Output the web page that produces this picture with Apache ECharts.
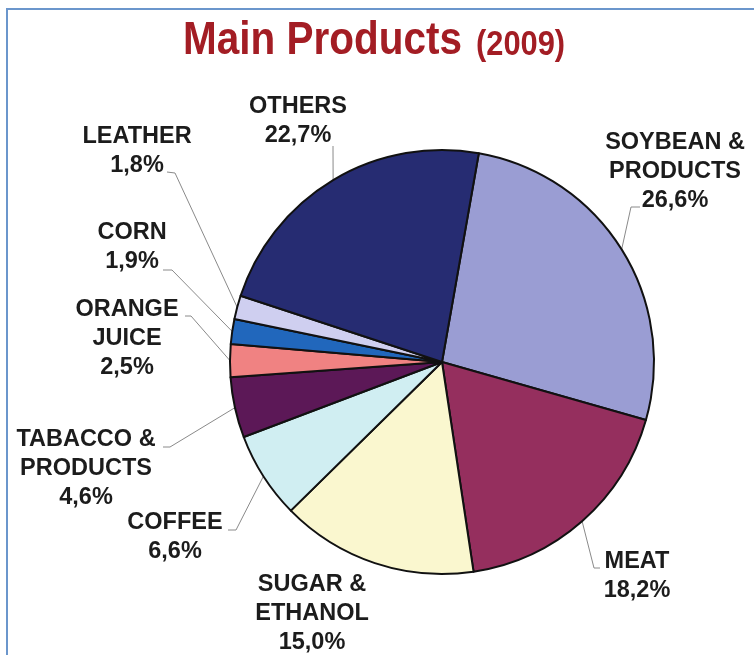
<!DOCTYPE html>
<html>
<head>
<meta charset="utf-8">
<script src="https://cdn.jsdelivr.net/npm/echarts@6/dist/echarts.min.js"></script>
<style>
  html, body { margin: 0; padding: 0; background: #ffffff; }
  #chart { width: 754px; height: 655px; }
</style>
</head>
<body>
<div id="chart"></div>
<script>
// Export shares by product group, 2009 (percent)
const categories = [
  'SOYBEAN &\nPRODUCTS',
  'MEAT',
  'SUGAR &\nETHANOL',
  'COFFEE',
  'TABACCO &\nPRODUCTS',
  'ORANGE\nJUICE',
  'CORN',
  'LEATHER',
  'OTHERS'
];
const shares = [26.6, 18.2, 15.0, 6.6, 4.6, 2.5, 1.9, 1.8, 22.7];
const sliceColors = ['#9a9dd3', '#952f5e', '#faf7cf', '#d0eef2', '#5c1857', '#f08282', '#2167bc', '#cfcff0', '#262c72'];

const titleMain = 'Main Products';
const titleYear = '(2009)';

// Where each label block sits (top-centre) and where its leader line meets the text
const labelBoxes = [
  { x: 675, y: 128, tail: [[640, 207], [631, 207]] },
  { x: 637, y: 547, tail: [[600, 568], [594, 568]] },
  { x: 312, y: 570, tail: null },
  { x: 175, y: 508, tail: [[228, 530], [236, 530]] },
  { x: 86,  y: 425, tail: [[163, 447], [170, 447]] },
  { x: 127, y: 295, tail: [[185, 316], [191, 316]] },
  { x: 132, y: 218, tail: [[163, 270], [172, 270]] },
  { x: 137, y: 122, tail: [[167, 172], [175, 173]] },
  { x: 298, y: 92,  tail: [[333, 146], [333, 150]] }
];

const fmtPct = v => v.toFixed(1).replace('.', ',') + '%';
const titleFont = '"Liberation Sans", Arial, sans-serif';

const chart = echarts.init(document.getElementById('chart'), null, { renderer: 'canvas' });

chart.setOption({
  backgroundColor: '#ffffff',
  animation: false,
  graphic: [
    {
      type: 'rect',
      shape: { x: 7, y: 9, width: 800, height: 700 },
      style: { fill: 'none', stroke: '#6b96cc', lineWidth: 2 },
      silent: true
    },
    {
      // condensed bold heading, narrowed horizontally
      type: 'text',
      x: 183, y: 41,
      scaleX: 0.88,
      silent: true,
      style: {
        text: titleMain,
        fill: '#a31d24',
        font: 'bold 46px ' + titleFont,
        align: 'left',
        verticalAlign: 'middle'
      }
    },
    {
      type: 'text',
      x: 476, y: 45,
      scaleX: 0.88,
      silent: true,
      style: {
        text: titleYear,
        fill: '#a31d24',
        font: 'bold 35px ' + titleFont,
        align: 'left',
        verticalAlign: 'middle'
      }
    }
  ],
  series: [
    {
      type: 'pie',
      center: [442, 362],
      radius: 212,
      startAngle: 80,
      clockwise: true,
      avoidLabelOverlap: false,
      data: categories.map((name, i) => ({
        name: name,
        value: shares[i],
        itemStyle: { color: sliceColors[i] },
        labelLine: { show: labelBoxes[i].tail !== null }
      })),
      itemStyle: { borderColor: '#111111', borderWidth: 2 },
      label: {
        show: true,
        position: 'outside',
        formatter: p => p.name + '\n' + fmtPct(p.value),
        color: '#1c1c1c',
        fontSize: 23.5,
        fontWeight: 'bold',
        fontFamily: '"Liberation Sans", Arial, sans-serif',
        lineHeight: 29,
        align: 'center'
      },
      labelLine: {
        show: true,
        length: 10,
        length2: 10,
        smooth: false,
        lineStyle: { color: '#8a8a8a', width: 1 }
      },
      labelLayout: function (params) {
        const box = labelBoxes[params.dataIndex];
        const out = { x: box.x, y: box.y, align: 'center', verticalAlign: 'top' };
        if (box.tail && params.labelLinePoints) {
          const p0 = params.labelLinePoints[0];
          out.labelLinePoints = [p0, box.tail[1], box.tail[0]];
        }
        return out;
      },
      emphasis: { disabled: true }
    }
  ]
});
</script>
</body>
</html>
